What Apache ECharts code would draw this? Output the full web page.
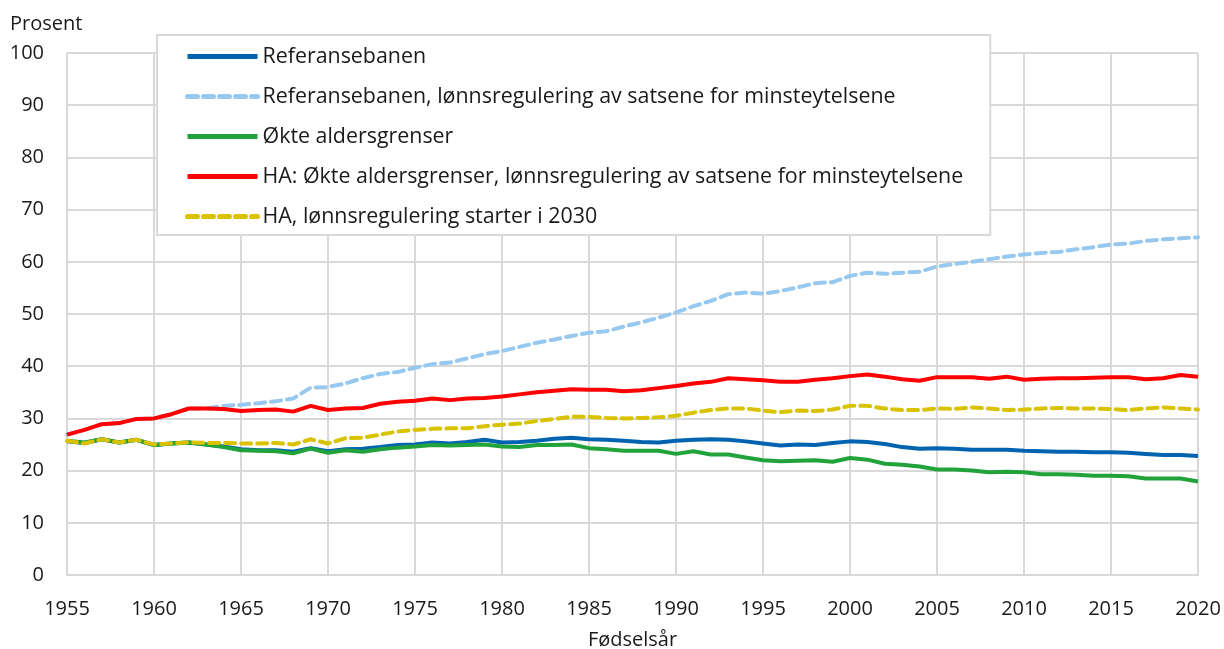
<!DOCTYPE html>
<html>
<head>
<meta charset="utf-8">
<script src="https://cdn.jsdelivr.net/npm/echarts@6/dist/echarts.min.js"></script>
<style>
  html, body { margin: 0; padding: 0; background: #fff; }
  #chart { width: 1224px; height: 649px; }
</style>
</head>
<body>
<div id="chart"></div>
<script>
// fødselsår 1955-2020
const years = []
for (let y = 1955; y <= 2020; y++) years.push(y)

const referansebanen = [
  25.6, 25.3, 26.0, 25.4, 25.9, 24.9, 25.2, 25.4, 25.0, 24.6,
  24.1, 23.9, 23.9, 23.6, 24.3, 23.7, 24.1, 24.2, 24.5, 24.9,
  25.0, 25.4, 25.2, 25.5, 25.9, 25.4, 25.5, 25.7, 26.1, 26.3,
  26.0, 25.9, 25.7, 25.5, 25.4, 25.7, 25.9, 26.0, 25.9, 25.6,
  25.2, 24.8, 25.0, 24.9, 25.3, 25.6, 25.5, 25.1, 24.5, 24.2,
  24.3, 24.2, 24.0, 24.0, 24.0, 23.8, 23.7, 23.6, 23.6, 23.5,
  23.5, 23.4, 23.2, 23.0, 23.0, 22.8
]

const referanseLonn = [
  26.9, 27.8, 28.9, 29.1, 29.9, 30.0, 30.8, 31.9, 31.9, 32.4,
  32.6, 32.9, 33.3, 33.8, 35.9, 36.0, 36.7, 37.7, 38.5, 38.9,
  39.7, 40.4, 40.7, 41.5, 42.3, 42.9, 43.7, 44.5, 45.1, 45.8,
  46.4, 46.7, 47.6, 48.4, 49.3, 50.3, 51.5, 52.5, 53.8, 54.1,
  53.9, 54.4, 55.1, 55.9, 56.1, 57.3, 57.9, 57.7, 57.9, 58.1,
  59.1, 59.6, 60.0, 60.5, 61.0, 61.4, 61.7, 61.9, 62.4, 62.8,
  63.3, 63.5, 64.0, 64.3, 64.5, 64.7
]

const okteAldersgrenser = [
  25.7, 25.4, 26.0, 25.4, 25.9, 24.9, 25.2, 25.4, 25.0, 24.5,
  23.9, 23.8, 23.7, 23.3, 24.2, 23.4, 23.9, 23.6, 24.1, 24.4,
  24.6, 24.9, 24.8, 24.9, 25.0, 24.6, 24.5, 24.9, 24.9, 25.0,
  24.3, 24.1, 23.8, 23.8, 23.8, 23.2, 23.7, 23.1, 23.1, 22.5,
  22.0, 21.8, 21.9, 22.0, 21.7, 22.4, 22.1, 21.3, 21.1, 20.8,
  20.2, 20.2, 20.0, 19.7, 19.8, 19.7, 19.3, 19.3, 19.2, 19.0,
  19.0, 18.9, 18.5, 18.5, 18.5, 17.9
]

const haLonn = [
  26.9, 27.8, 28.9, 29.1, 29.9, 30.0, 30.8, 31.9, 31.9, 31.8,
  31.4, 31.6, 31.7, 31.3, 32.4, 31.6, 31.9, 32.0, 32.8, 33.2,
  33.4, 33.8, 33.5, 33.8, 33.9, 34.2, 34.6, 35.0, 35.3, 35.6,
  35.5, 35.5, 35.2, 35.4, 35.8, 36.2, 36.7, 37.0, 37.7, 37.5,
  37.3, 37.0, 37.0, 37.4, 37.7, 38.1, 38.4, 38.0, 37.5, 37.2,
  37.9, 37.9, 37.9, 37.6, 38.0, 37.4, 37.6, 37.7, 37.7, 37.8,
  37.9, 37.9, 37.5, 37.7, 38.3, 38.0
]

const ha2030 = [
  25.7, 25.2, 26.0, 25.4, 25.9, 25.0, 25.2, 25.4, 25.3, 25.3,
  25.2, 25.2, 25.3, 25.0, 26.0, 25.2, 26.2, 26.3, 26.9, 27.5,
  27.8, 28.0, 28.1, 28.1, 28.5, 28.8, 29.0, 29.5, 29.9, 30.3,
  30.3, 30.1, 30.0, 30.1, 30.2, 30.5, 31.1, 31.6, 31.9, 31.9,
  31.5, 31.2, 31.5, 31.4, 31.7, 32.4, 32.4, 31.9, 31.6, 31.6,
  31.9, 31.8, 32.1, 31.9, 31.6, 31.7, 31.9, 32.0, 31.9, 31.9,
  31.8, 31.6, 31.9, 32.1, 31.9, 31.7
]

const seriesNames = [
  'Referansebanen',
  'Referansebanen, lønnsregulering av satsene for minsteytelsene',
  'Økte aldersgrenser',
  'HA: Økte aldersgrenser, lønnsregulering av satsene for minsteytelsene',
  'HA, lønnsregulering starter i 2030'
]

const FONT = '"Open Sans", "Noto Sans", sans-serif'
const TEXT = '#1a1a1a'
const GRID = '#d9d9d9'

function pairs(values) {
  return years.map((y, i) => [y, values[i]])
}

function lineSeries(name, values, color, dashed) {
  return {
    name: name,
    type: 'line',
    data: pairs(values),
    symbol: 'none',
    lineStyle: {
      color: color,
      width: 4,
      type: dashed ? [10, 6] : 'solid',
      cap: dashed ? 'round' : 'butt'
    },
    itemStyle: { color: color }
  }
}

const chart = echarts.init(document.getElementById('chart'), null, { renderer: 'canvas' })

const option = {
  animation: false,
  backgroundColor: '#fff',
  textStyle: { fontFamily: FONT },
  grid: {
    left: 67,
    right: 26,
    top: 53,
    bottom: 74,
    containLabel: false,
    outerBoundsMode: 'none'
  },
  legend: {
    orient: 'vertical',
    left: 157,
    top: 35,
    backgroundColor: '#fff',
    borderColor: GRID,
    borderWidth: 2,
    borderRadius: 0,
    padding: [11, 27, 8, 28],
    itemWidth: 70,
    itemHeight: 14,
    itemGap: 19,
    itemStyle: { opacity: 0 },
    lineStyle: { width: 5 },
    textStyle: {
      fontFamily: FONT,
      fontSize: 21.4,
      color: TEXT,
      lineHeight: 20
    },
    data: seriesNames
  },
  xAxis: {
    type: 'value',
    min: 1955,
    max: 2020,
    interval: 5,
    name: 'Fødselsår',
    nameLocation: 'middle',
    nameGap: 55,
    nameTextStyle: { fontFamily: FONT, fontSize: 20, color: TEXT },
    axisLine: { show: true, lineStyle: { color: GRID, width: 2 } },
    axisTick: { show: false },
    axisLabel: {
      fontFamily: FONT,
      fontSize: 20,
      color: TEXT,
      margin: 24,
      formatter: v => String(v)
    },
    splitLine: { show: true, lineStyle: { color: GRID, width: 2 } }
  },
  yAxis: {
    type: 'value',
    min: 0,
    max: 100,
    interval: 10,
    name: 'Prosent',
    nameLocation: 'end',
    nameGap: 19,
    nameTextStyle: {
      fontFamily: FONT,
      fontSize: 20,
      color: TEXT,
      align: 'left',
      padding: [0, 0, 0, -57]
    },
    axisLine: { show: false },
    axisTick: { show: false },
    axisLabel: {
      fontFamily: FONT,
      fontSize: 20,
      color: TEXT,
      margin: 23
    },
    splitLine: { show: true, lineStyle: { color: GRID, width: 2 } }
  },
  series: [
    lineSeries(seriesNames[0], referansebanen, '#0063b0', false),
    lineSeries(seriesNames[1], referanseLonn, '#97c8ef', true),
    lineSeries(seriesNames[2], okteAldersgrenser, '#22a23b', false),
    lineSeries(seriesNames[3], haLonn, '#ff0000', false),
    lineSeries(seriesNames[4], ha2030, '#d9c200', true)
  ]
}

chart.setOption(option)
</script>
</body>
</html>
